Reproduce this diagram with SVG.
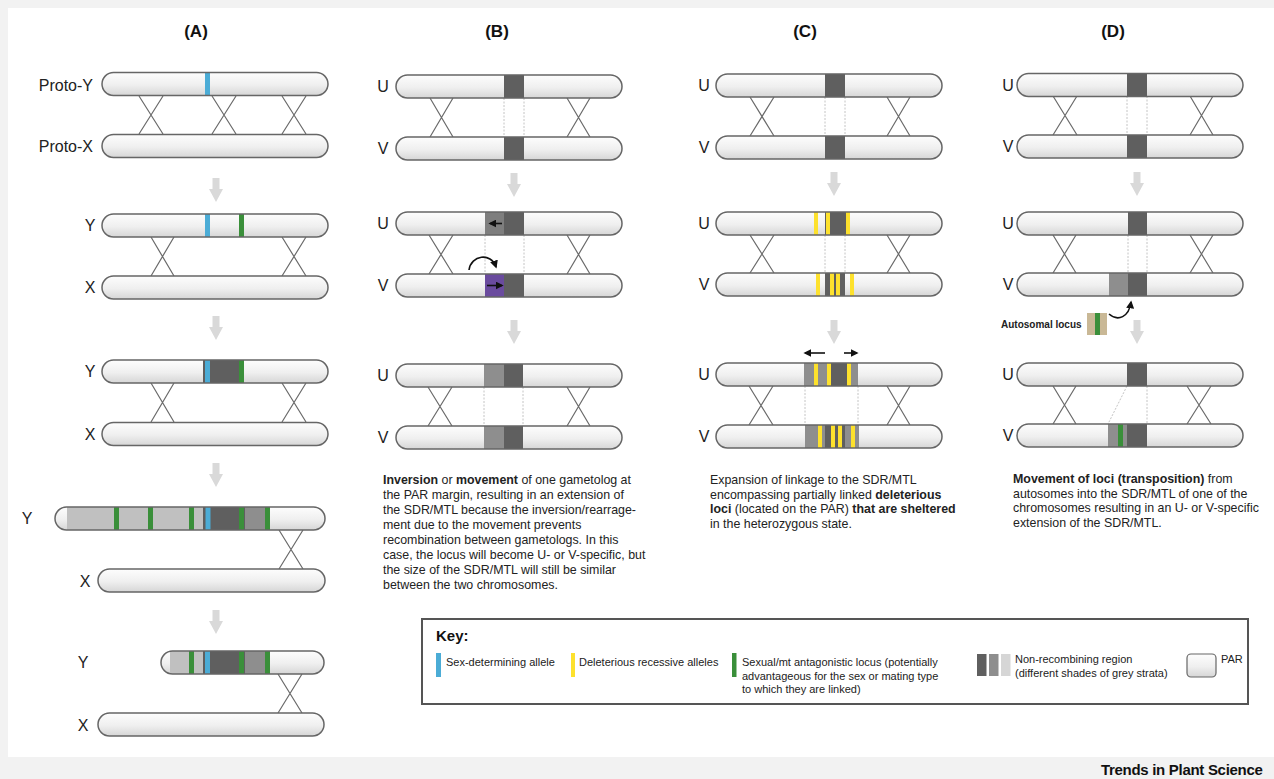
<svg xmlns="http://www.w3.org/2000/svg" width="1274" height="779" viewBox="0 0 1274 779">
<style>
.chr{fill:url(#cg);stroke:none}
.ol{fill:none;stroke:#666;stroke-width:1.5}
.x{stroke:#6a6a6a;stroke-width:1.2;fill:none}
.dot{stroke:#c4c4c4;stroke-width:1;stroke-dasharray:2 1.5;fill:none}
.arr{fill:#d9d9d9}
.dk{fill:#5f5f5f}
.md{fill:#8e8e8e}
.lt{fill:#c0c0c0}
.bl{fill:#4bacd6}
.gr{fill:#3a8f3a}
.ye{fill:#fde12d}
.lbl{font-family:"Liberation Sans",Arial,sans-serif;font-size:16px;fill:#222}
.ttl{font-family:"Liberation Sans",Arial,sans-serif;font-size:17px;font-weight:bold;fill:#111;text-anchor:middle}
.p{font-family:"Liberation Sans",Arial,sans-serif;font-size:12.4px;fill:#222}
.k{font-family:"Liberation Sans",Arial,sans-serif;font-size:11px;fill:#222}
.b{font-weight:bold}
.blk{stroke:#111;stroke-width:1.6;fill:none}
</style>
<defs>
<linearGradient id="cg" x1="0" y1="0" x2="0" y2="1">
<stop offset="0" stop-color="#fdfdfd"/>
<stop offset="0.55" stop-color="#efefef"/>
<stop offset="1" stop-color="#d6d6d6"/>
</linearGradient>
<marker id="ah" viewBox="0 0 10 10" refX="8" refY="5" markerWidth="5" markerHeight="5" orient="auto">
<path d="M0,0 L10,5 L0,10 z" fill="#111"/>
</marker>
<path id="darr" d="M-3.5,0 H3.5 V11 H7 L0,24 L-7,11 H-3.5 z"/>
</defs>
<rect x="0" y="0" width="1274" height="779" fill="#f2f2f2"/>
<rect x="8" y="8" width="1266" height="749" fill="#ffffff"/>

<text class="ttl" x="196" y="37">(A)</text>
<text class="ttl" x="497" y="37">(B)</text>
<text class="ttl" x="805" y="37">(C)</text>
<text class="ttl" x="1113" y="37">(D)</text>

<!-- connectors -->
<g id="connectors">
<g class="x">
<path d="M139,96 L163,134 M163,96 L139,134 M212,96 L236,134 M236,96 L212,134 M282,96 L306,134 M306,96 L282,134"/>
<path d="M151,237 L174,276 M174,237 L151,276 M282,237 L306,276 M306,237 L282,276"/>
<path d="M151,383 L174,422 M174,383 L151,422 M282,383 L306,422 M306,383 L282,422"/>
<path d="M279,530 L303,569 M303,530 L279,569"/>
<path d="M278,674 L302,713 M302,674 L278,713"/>
<path d="M430,98 L453,137 M453,98 L430,137 M567,98 L590,137 M590,98 L567,137"/>
<path d="M429,235 L453,274 M453,235 L429,274 M567,235 L590,274 M590,235 L567,274"/>
<path d="M428,387 L452,426 M452,387 L428,426 M567,387 L590,426 M590,387 L567,426"/>
<path d="M750,97 L774,136 M774,97 L750,136 M887,97 L910,136 M910,97 L887,136"/>
<path d="M750,235 L774,273 M774,235 L750,273 M887,235 L910,273 M910,235 L887,273"/>
<path d="M749,386 L773,425 M773,386 L749,425 M887,386 L910,425 M910,386 L887,425"/>
<path d="M1053,96 L1077,135 M1077,96 L1053,135 M1190,96 L1213,135 M1213,96 L1190,135"/>
<path d="M1053,235 L1076,273 M1076,235 L1053,273 M1190,235 L1213,273 M1213,235 L1190,273"/>
<path d="M1053,386 L1076,424 M1076,386 L1053,424 M1187,386 L1211,424 M1211,386 L1187,424"/>
</g>
<g class="dot">
<path d="M504,98 V137 M524,98 V137"/>
<path d="M485,235 V274 M524,235 V274"/>
<path d="M484,387 V426 M523,387 V426"/>
<path d="M825,97 V136 M845,97 V136"/>
<path d="M825,235 V273 M845,235 V273"/>
<path d="M805,386 V425 M858,386 V425"/>
<path d="M1127,96 V135 M1147,96 V135"/>
<path d="M1128,235 V273 M1147,235 V273"/>
<path d="M1127,386 L1108,424 M1147,386 V424"/>
</g>
<g class="arr">
<use href="#darr" x="216" y="178"/>
<use href="#darr" x="216" y="316"/>
<use href="#darr" x="216" y="463"/>
<use href="#darr" x="216" y="610"/>
<use href="#darr" x="514" y="173"/>
<use href="#darr" x="514" y="320"/>
<use href="#darr" x="834" y="172"/>
<use href="#darr" x="834" y="320"/>
<use href="#darr" x="1137" y="172"/>
<use href="#darr" x="1137" y="320"/>
</g>
<path class="blk" d="M469,270 C471,255 491,252 496,267" marker-end="url(#ah)"/>
<path class="blk" d="M825,353 H805" marker-end="url(#ah)"/>
<path class="blk" d="M844,353 H857" marker-end="url(#ah)"/>
<path class="blk" d="M1109,314 C1118,322 1129,317 1131,302" marker-end="url(#ah)"/>
</g>

<!-- Panel A -->
<g id="A-protoY">
<rect class="chr" x="102" y="72.5" width="226" height="23" rx="11.5"/>
<rect class="bl" x="205" y="72.5" width="5" height="23"/>
<rect class="ol" x="102" y="72.5" width="226" height="23" rx="11.5"/>
<text class="lbl" x="93" y="91" text-anchor="end">Proto-Y</text>
</g>
<g id="A-protoX">
<rect class="chr" x="102" y="134.5" width="226" height="23" rx="11.5"/>
<rect class="ol" x="102" y="134.5" width="226" height="23" rx="11.5"/>
<text class="lbl" x="93" y="152" text-anchor="end">Proto-X</text>
</g>
<g id="A-Y2">
<rect class="chr" x="102" y="214" width="226" height="23" rx="11.5"/>
<rect class="bl" x="205" y="214" width="5" height="23"/>
<rect class="gr" x="239" y="214" width="5" height="23"/>
<rect class="ol" x="102" y="214" width="226" height="23" rx="11.5"/>
<text class="lbl" x="90" y="231" text-anchor="middle">Y</text>
</g>
<g id="A-X2">
<rect class="chr" x="102" y="276" width="226" height="23" rx="11.5"/>
<rect class="ol" x="102" y="276" width="226" height="23" rx="11.5"/>
<text class="lbl" x="90" y="293" text-anchor="middle">X</text>
</g>
<g id="A-Y3">
<rect class="chr" x="102" y="360" width="226" height="23" rx="11.5"/>
<rect class="dk" x="203" y="360" width="41" height="23"/>
<rect class="bl" x="205" y="360" width="5" height="23"/>
<rect class="gr" x="239" y="360" width="5" height="23"/>
<rect class="ol" x="102" y="360" width="226" height="23" rx="11.5"/>
<text class="lbl" x="90" y="377" text-anchor="middle">Y</text>
</g>
<g id="A-X3">
<rect class="chr" x="102" y="422.5" width="226" height="23" rx="11.5"/>
<rect class="ol" x="102" y="422.5" width="226" height="23" rx="11.5"/>
<text class="lbl" x="90" y="440" text-anchor="middle">X</text>
</g>
<g id="A-Y4">
<rect class="chr" x="55" y="507" width="270" height="23" rx="11.5"/>
<rect class="lt" x="67" y="507" width="136" height="23"/>
<rect class="gr" x="114" y="507" width="5" height="23"/>
<rect class="gr" x="148" y="507" width="5" height="23"/>
<rect class="gr" x="189" y="507" width="5" height="23"/>
<rect class="dk" x="203" y="507" width="42" height="23"/>
<rect class="bl" x="205.5" y="507" width="5" height="23"/>
<rect class="gr" x="239" y="507" width="5" height="23"/>
<rect class="md" x="245" y="507" width="20" height="23"/>
<rect class="gr" x="265" y="507" width="5" height="23"/>
<rect class="ol" x="55" y="507" width="270" height="23" rx="11.5"/>
<text class="lbl" x="27" y="524" text-anchor="middle">Y</text>
</g>
<g id="A-X4">
<rect class="chr" x="98" y="569" width="227" height="23" rx="11.5"/>
<rect class="ol" x="98" y="569" width="227" height="23" rx="11.5"/>
<text class="lbl" x="85" y="587" text-anchor="middle">X</text>
</g>
<g id="A-Y5">
<rect class="chr" x="161" y="651" width="163" height="23" rx="11.5"/>
<rect class="lt" x="170" y="651" width="33" height="23"/>
<rect class="gr" x="189" y="651" width="5" height="23"/>
<rect class="dk" x="203" y="651" width="42" height="23"/>
<rect class="bl" x="205" y="651" width="5" height="23"/>
<rect class="gr" x="239" y="651" width="5" height="23"/>
<rect class="md" x="245" y="651" width="20" height="23"/>
<rect class="gr" x="265" y="651" width="5" height="23"/>
<rect class="ol" x="161" y="651" width="163" height="23" rx="11.5"/>
<text class="lbl" x="83" y="668" text-anchor="middle">Y</text>
</g>
<g id="A-X5">
<rect class="chr" x="98" y="713" width="226" height="23" rx="11.5"/>
<rect class="ol" x="98" y="713" width="226" height="23" rx="11.5"/>
<text class="lbl" x="83" y="731" text-anchor="middle">X</text>
</g>

<!-- Panel B -->
<g id="B-U1">
<rect class="chr" x="396" y="75" width="226" height="23" rx="11.5"/>
<rect class="dk" x="504" y="75" width="20" height="23"/>
<rect class="ol" x="396" y="75" width="226" height="23" rx="11.5"/>
<text class="lbl" x="383" y="92" text-anchor="middle">U</text>
</g>
<g id="B-V1">
<rect class="chr" x="396" y="137" width="226" height="23" rx="11.5"/>
<rect class="dk" x="504" y="137" width="20" height="23"/>
<rect class="ol" x="396" y="137" width="226" height="23" rx="11.5"/>
<text class="lbl" x="383" y="154" text-anchor="middle">V</text>
</g>
<g id="B-U2">
<rect class="chr" x="396" y="212" width="226" height="23" rx="11.5"/>
<rect fill="#7e7e7e" x="485" y="212" width="19" height="23"/>
<rect class="dk" x="504" y="212" width="20" height="23"/>
<path class="blk" d="M502,223.5 H490" marker-end="url(#ah)"/>
<rect class="ol" x="396" y="212" width="226" height="23" rx="11.5"/>
<text class="lbl" x="383" y="229" text-anchor="middle">U</text>
</g>
<g id="B-V2">
<rect class="chr" x="396" y="274" width="226" height="23" rx="11.5"/>
<rect fill="#6a4b9e" x="485" y="274" width="19" height="23"/>
<rect class="dk" x="504" y="274" width="20" height="23"/>
<path class="blk" d="M487,285.5 H502" marker-end="url(#ah)"/>
<rect class="ol" x="396" y="274" width="226" height="23" rx="11.5"/>
<text class="lbl" x="383" y="291" text-anchor="middle">V</text>
</g>
<g id="B-U3">
<rect class="chr" x="396" y="364" width="226" height="23" rx="11.5"/>
<rect class="md" x="484" y="364" width="20" height="23"/>
<rect class="dk" x="504" y="364" width="19" height="23"/>
<rect class="ol" x="396" y="364" width="226" height="23" rx="11.5"/>
<text class="lbl" x="383" y="381" text-anchor="middle">U</text>
</g>
<g id="B-V3">
<rect class="chr" x="396" y="426" width="226" height="23" rx="11.5"/>
<rect class="md" x="484" y="426" width="20" height="23"/>
<rect class="dk" x="504" y="426" width="19" height="23"/>
<rect class="ol" x="396" y="426" width="226" height="23" rx="11.5"/>
<text class="lbl" x="383" y="443" text-anchor="middle">V</text>
</g>
<g id="B-text">
<text class="p" x="383" y="484"><tspan class="b">Inversion</tspan> or <tspan class="b">movement</tspan> of one gametolog at</text>
<text class="p" x="383" y="499">the PAR margin, resulting in an extension of</text>
<text class="p" x="383" y="514">the SDR/MTL because the inversion/rearrage-</text>
<text class="p" x="383" y="529">ment due to the movement prevents</text>
<text class="p" x="383" y="544">recombination between gametologs. In this</text>
<text class="p" x="383" y="559">case, the locus will become U- or V-specific, but</text>
<text class="p" x="383" y="574">the size of the SDR/MTL will still be similar</text>
<text class="p" x="383" y="589">between the two chromosomes.</text>
</g>

<!-- Panel C -->
<g id="C-U1">
<rect class="chr" x="716" y="74" width="226" height="23" rx="11.5"/>
<rect class="dk" x="825" y="74" width="20" height="23"/>
<rect class="ol" x="716" y="74" width="226" height="23" rx="11.5"/>
<text class="lbl" x="704" y="91" text-anchor="middle">U</text>
</g>
<g id="C-V1">
<rect class="chr" x="716" y="136" width="226" height="23" rx="11.5"/>
<rect class="dk" x="825" y="136" width="20" height="23"/>
<rect class="ol" x="716" y="136" width="226" height="23" rx="11.5"/>
<text class="lbl" x="704" y="153" text-anchor="middle">V</text>
</g>
<g id="C-U2">
<rect class="chr" x="716" y="212" width="226" height="23" rx="11.5"/>
<rect class="dk" x="825" y="212" width="21" height="23"/>
<rect class="ye" x="814" y="212" width="4" height="23"/>
<rect class="ye" x="826" y="212" width="4" height="23"/>
<rect class="ye" x="846" y="212" width="4" height="23"/>
<rect class="ol" x="716" y="212" width="226" height="23" rx="11.5"/>
<text class="lbl" x="704" y="229" text-anchor="middle">U</text>
</g>
<g id="C-V2">
<rect class="chr" x="716" y="273" width="226" height="23" rx="11.5"/>
<rect class="dk" x="825" y="273" width="20" height="23"/>
<rect class="ye" x="816" y="273" width="4" height="23"/>
<rect class="ye" x="830" y="273" width="4" height="23"/>
<rect class="ye" x="836" y="273" width="4" height="23"/>
<rect class="ye" x="850" y="273" width="4" height="23"/>
<rect class="ol" x="716" y="273" width="226" height="23" rx="11.5"/>
<text class="lbl" x="704" y="290" text-anchor="middle">V</text>
</g>
<g id="C-U3">
<rect class="chr" x="716" y="363" width="226" height="23" rx="11.5"/>
<rect class="md" x="804" y="363" width="54" height="23"/>
<rect class="dk" x="830" y="363" width="17" height="23"/>
<rect class="ye" x="814" y="363" width="4" height="23"/>
<rect class="ye" x="827" y="363" width="4" height="23"/>
<rect class="ye" x="847" y="363" width="4" height="23"/>
<rect class="ol" x="716" y="363" width="226" height="23" rx="11.5"/>
<text class="lbl" x="704" y="380" text-anchor="middle">U</text>
</g>
<g id="C-V3">
<rect class="chr" x="716" y="425" width="226" height="23" rx="11.5"/>
<rect class="md" x="805" y="425" width="54" height="23"/>
<rect class="dk" x="825" y="425" width="20" height="23"/>
<rect class="ye" x="818" y="425" width="4" height="23"/>
<rect class="ye" x="831" y="425" width="4" height="23"/>
<rect class="ye" x="838" y="425" width="4" height="23"/>
<rect class="ye" x="851" y="425" width="4" height="23"/>
<rect class="ol" x="716" y="425" width="226" height="23" rx="11.5"/>
<text class="lbl" x="704" y="442" text-anchor="middle">V</text>
</g>
<g id="C-text">
<text class="p" x="710" y="484">Expansion of linkage to the SDR/MTL</text>
<text class="p" x="710" y="498.5">encompassing partially linked <tspan class="b">deleterious</tspan></text>
<text class="p" x="710" y="513"><tspan class="b">loci</tspan> (located on the PAR) <tspan class="b">that are sheltered</tspan></text>
<text class="p" x="710" y="527.5">in the heterozygous state.</text>
</g>

<!-- Panel D -->
<g id="D-U1">
<rect class="chr" x="1017" y="73.5" width="226" height="23" rx="11.5"/>
<rect class="dk" x="1127" y="73.5" width="20" height="23"/>
<rect class="ol" x="1017" y="73.5" width="226" height="23" rx="11.5"/>
<text class="lbl" x="1008" y="91" text-anchor="middle">U</text>
</g>
<g id="D-V1">
<rect class="chr" x="1017" y="135" width="226" height="23" rx="11.5"/>
<rect class="dk" x="1127" y="135" width="20" height="23"/>
<rect class="ol" x="1017" y="135" width="226" height="23" rx="11.5"/>
<text class="lbl" x="1008" y="152" text-anchor="middle">V</text>
</g>
<g id="D-U2">
<rect class="chr" x="1017" y="212" width="226" height="23" rx="11.5"/>
<rect class="dk" x="1128" y="212" width="19" height="23"/>
<rect class="ol" x="1017" y="212" width="226" height="23" rx="11.5"/>
<text class="lbl" x="1008" y="229" text-anchor="middle">U</text>
</g>
<g id="D-V2">
<rect class="chr" x="1017" y="273" width="226" height="23" rx="11.5"/>
<rect class="md" x="1109" y="273" width="19" height="23"/>
<rect class="dk" x="1128" y="273" width="19" height="23"/>
<rect class="ol" x="1017" y="273" width="226" height="23" rx="11.5"/>
<text class="lbl" x="1008" y="290" text-anchor="middle">V</text>
</g>
<g id="D-autosome">
<text x="1001" y="328" font-family="Liberation Sans, Arial, sans-serif" font-size="10" font-weight="bold" fill="#222">Autosomal locus</text>
<rect fill="#c9b896" x="1087" y="313" width="20" height="22"/>
<rect class="gr" x="1095" y="313" width="5" height="22"/>
</g>
<g id="D-U3">
<rect class="chr" x="1017" y="363" width="226" height="23" rx="11.5"/>
<rect class="dk" x="1127" y="363" width="20" height="23"/>
<rect class="ol" x="1017" y="363" width="226" height="23" rx="11.5"/>
<text class="lbl" x="1008" y="380" text-anchor="middle">U</text>
</g>
<g id="D-V3">
<rect class="chr" x="1017" y="424" width="226" height="23" rx="11.5"/>
<rect class="md" x="1108" y="424" width="19" height="23"/>
<rect class="gr" x="1118" y="424" width="5" height="23"/>
<rect class="dk" x="1127" y="424" width="20" height="23"/>
<rect class="ol" x="1017" y="424" width="226" height="23" rx="11.5"/>
<text class="lbl" x="1008" y="441" text-anchor="middle">V</text>
</g>
<g id="D-text">
<text class="p" x="1013" y="483"><tspan class="b">Movement of loci (transposition)</tspan> from</text>
<text class="p" x="1013" y="497.5">autosomes into the SDR/MTL of one of the</text>
<text class="p" x="1013" y="512">chromosomes resulting in an U- or V-specific</text>
<text class="p" x="1013" y="526.5">extension of the SDR/MTL.</text>
</g>

<!-- Key -->
<g id="key">
<rect x="422" y="619" width="826" height="85" fill="#fff" stroke="#555" stroke-width="2"/>
<text x="436" y="641" font-family="Liberation Sans, Arial, sans-serif" font-size="15" font-weight="bold" fill="#111">Key:</text>
<rect class="bl" x="436" y="653" width="5" height="24"/>
<text class="k" x="446" y="666">Sex-determining allele</text>
<rect class="ye" x="571" y="653" width="4" height="24"/>
<text class="k" x="579" y="666">Deleterious recessive alleles</text>
<rect class="gr" x="732" y="653" width="4.5" height="24"/>
<text class="k" x="742" y="666">Sexual/mt antagonistic locus (potentially</text>
<text class="k" x="742" y="679.5">advantageous for the sex or mating type</text>
<text class="k" x="742" y="693">to which they are linked)</text>
<rect class="dk" x="977" y="654" width="9.5" height="22"/>
<rect class="md" x="989" y="654" width="9.5" height="22"/>
<rect fill="#d6d6d6" x="1001" y="654" width="9.5" height="22"/>
<text class="k" x="1015" y="663">Non-recombining region</text>
<text class="k" x="1015" y="676.5">(different shades of grey strata)</text>
<rect x="1187" y="654" width="29" height="23" rx="4" fill="url(#cg)" stroke="#666" stroke-width="1.2"/>
<text class="k" x="1221" y="663">PAR</text>
</g>

<text x="1101" y="775" font-family="Liberation Sans, Arial, sans-serif" font-size="15" font-weight="bold" fill="#111" letter-spacing="-0.3">Trends in Plant Science</text>
</svg>
